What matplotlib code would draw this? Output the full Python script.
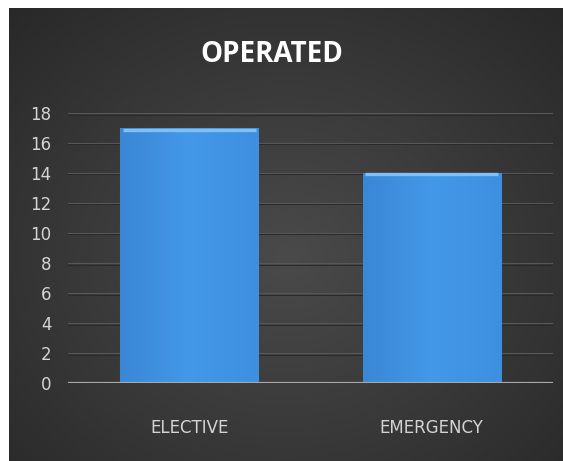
import numpy as np
import matplotlib
matplotlib.use("Agg")
import matplotlib.pyplot as plt
from matplotlib.colors import LinearSegmentedColormap

categories = ["ELECTIVE", "EMERGENCY"]
values = [17, 14]
yticks = [0, 2, 4, 6, 8, 10, 12, 14, 16, 18]
title = "OPERATED"

W, H, DPI = 563, 461, 100
fig = plt.figure(figsize=(W / DPI, H / DPI), dpi=DPI, facecolor="white")

# dark panel with radial gradient
bg = fig.add_axes([9 / W, 0, 1 - 9 / W, 1 - 8 / H])
bg.set_axis_off()
yy, xx = np.mgrid[0:1:300j, 0:1:360j]
r = np.sqrt(((xx - 0.5) / 0.75) ** 2 + ((yy - 0.55) / 0.8) ** 2)
bgcmap = LinearSegmentedColormap.from_list("bg", ["#4a4a4a", "#393939", "#272727"])
bg.imshow(np.clip(r, 0, 1), cmap=bgcmap, aspect="auto", extent=[0, 1, 0, 1], vmin=0, vmax=1)
bg.set_xlim(0, 1)
bg.set_ylim(0, 1)

# plotting axes
left, right = 68, 553
bottom, top = 383, 113
ax = fig.add_axes([left / W, 1 - bottom / H, (right - left) / W, (bottom - top) / H])
ax.patch.set_alpha(0)

for t in yticks[1:]:
    ax.axhline(t, color="#575757", lw=0.8, zorder=1)
    ax.axhline(t - 0.1, color="#2a2a2a", lw=0.7, zorder=1)

x = np.arange(len(categories))
bars = ax.bar(x, values, width=0.57, color="#3f90e0", edgecolor="#2a5f98", linewidth=0.8, zorder=3)
gcmap = LinearSegmentedColormap.from_list("bar", ["#3a87d6", "#4498e8", "#3e8fdf"])
grad = np.linspace(0, 1, 100).reshape(1, -1)
for b in bars:
    x0, w, h = b.get_x(), b.get_width(), b.get_height()
    im = ax.imshow(grad, cmap=gcmap, aspect="auto", extent=[x0, x0 + w, 0, h], zorder=3.5)
    im.set_clip_path(b)
    ax.plot([x0 + 0.01, x0 + w - 0.01], [h - 0.1, h - 0.1], color="#7fc0f8", lw=2.4,
            solid_capstyle="butt", zorder=4)
ax.set_xlim(-0.5, 1.5)
ax.set_ylim(0, 18)

ax.axhline(0, color="#a8a8a8", lw=1.6, zorder=5)
for s in ax.spines.values():
    s.set_visible(False)

ax.set_yticks(yticks)
ax.set_yticklabels([str(v) for v in yticks], family=["Liberation Sans Narrow", "DejaVu Sans"],
                   fontsize=12, color="#d4d4d4")
ax.set_xticks(x)
ax.set_xticklabels(categories, family=["Liberation Sans Narrow", "DejaVu Sans"],
                   fontsize=12, color="#d4d4d4")
ax.tick_params(axis="both", length=0)
ax.tick_params(axis="y", pad=12)
ax.tick_params(axis="x", pad=26)

fig.text(272 / W, 1 - 55 / H, title, ha="center", va="center", fontsize=20,
         fontweight="bold", color="white", family=["Open Sans", "DejaVu Sans"])

fig.savefig("out.png", dpi=DPI, facecolor="white")
